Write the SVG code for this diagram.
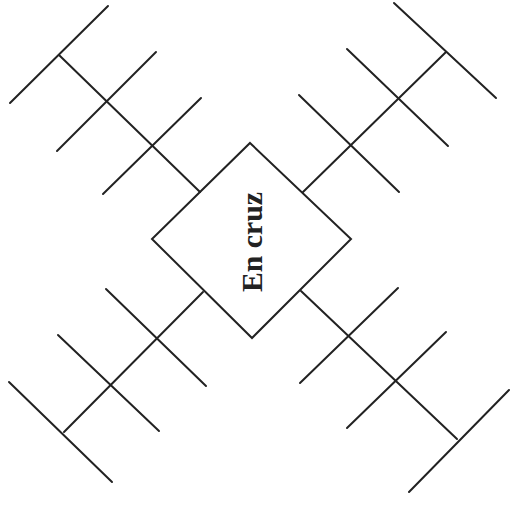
<svg xmlns="http://www.w3.org/2000/svg" width="517" height="506" viewBox="0 0 517 506">
<style>
.ln{stroke:#222;stroke-width:2;fill:none;stroke-linecap:round;stroke-linejoin:miter}
.lbl{font-family:"Liberation Serif","Times New Roman",serif;font-weight:bold;font-size:30px;fill:#222}
</style>
<rect width="517" height="506" fill="#fff"/>
<g id="connectors" class="ln">
  <g id="branch-top-left">
    <line x1="200" y1="192" x2="59" y2="55"/>
    <line x1="103" y1="194" x2="201" y2="98"/>
    <line x1="57" y1="151" x2="156" y2="52"/>
    <line x1="10" y1="103" x2="108" y2="6"/>
  </g>
  <g id="branch-top-right">
    <line x1="303" y1="192" x2="446" y2="52"/>
    <line x1="299" y1="95" x2="399" y2="192"/>
    <line x1="347" y1="49" x2="448" y2="146"/>
    <line x1="394" y1="3" x2="496" y2="98"/>
  </g>
  <g id="branch-bottom-left">
    <line x1="203" y1="292" x2="64" y2="432"/>
    <line x1="106" y1="289" x2="206" y2="386"/>
    <line x1="58" y1="335" x2="159" y2="431"/>
    <line x1="9" y1="382" x2="112" y2="482"/>
  </g>
  <g id="branch-bottom-right">
    <line x1="301" y1="291" x2="457" y2="439"/>
    <line x1="300" y1="383" x2="398" y2="288"/>
    <line x1="347" y1="428" x2="446" y2="332"/>
    <line x1="409" y1="492" x2="509" y2="390"/>
  </g>
</g>
<g id="node-en-cruz">
  <polygon class="ln" points="250,143 351,239 252,338 152,239" fill="#fff"/>
  <text class="lbl" transform="translate(262,242) rotate(-90)" text-anchor="middle" textLength="100" lengthAdjust="spacingAndGlyphs">En cruz</text>
</g>
</svg>
